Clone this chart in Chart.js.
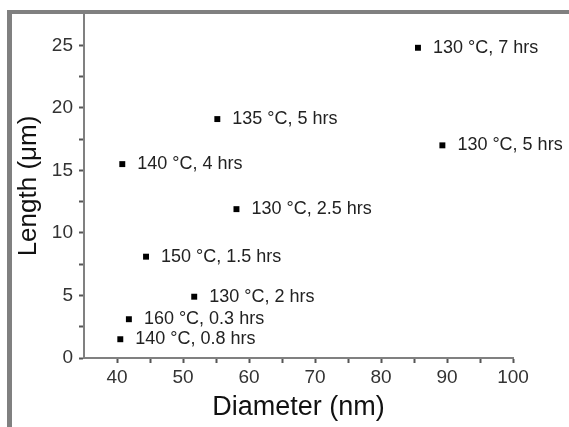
<!DOCTYPE html>
<html>
<head>
<meta charset="utf-8">
<script src="https://cdn.jsdelivr.net/npm/chart.js@4/dist/chart.umd.min.js"></script>
<style>
  html, body { margin: 0; padding: 0; background: #fff; }
  #wrap { position: relative; width: 569px; height: 427px; overflow: hidden; }
  #frame { position: absolute; left: 7px; top: 10px; width: 600px; height: 500px;
           border-left: 5px solid #808080; border-top: 4px solid #808080; }
  canvas { position: absolute; left: 0; top: 0; }
</style>
</head>
<body>
<div id="wrap">
  <div id="frame"></div>
  <canvas id="c" width="569" height="427"></canvas>
</div>
<script>
// Data
const diameters = [85.6, 55.2, 89.3, 40.8, 58.1, 44.4, 51.7, 41.8, 40.5];   // nm
const lengths   = [24.8, 19.1, 17.0, 15.5, 11.9, 8.1, 4.9, 3.1, 1.5];     // µm
const pointLabels = [
  "130 °C, 7 hrs", "135 °C, 5 hrs", "130 °C, 5 hrs", "140 °C, 4 hrs",
  "130 °C, 2.5 hrs", "150 °C, 1.5 hrs", "130 °C, 2 hrs", "160 °C, 0.3 hrs",
  "140 °C, 0.8 hrs"
];
const xTickLabels = [40, 50, 60, 70, 80, 90, 100];
const yTickLabels = [0, 5, 10, 15, 20, 25];

const FONT = "'Liberation Sans', Arial, sans-serif";

const labelPlugin = {
  id: 'pointLabels',
  afterDatasetsDraw(chart) {
    const ctx = chart.ctx;
    const meta = chart.getDatasetMeta(0);
    ctx.save();
    ctx.font = "18px " + FONT;
    ctx.fillStyle = "#222";
    ctx.textBaseline = "middle";
    ctx.textAlign = "left";
    meta.data.forEach((el, i) => {
      ctx.fillText(pointLabels[i], el.x + 15, el.y);
    });
    ctx.restore();
  }
};

new Chart(document.getElementById('c'), {
  type: 'scatter',
  data: {
    datasets: [{
      data: diameters.map((d, i) => ({ x: d, y: lengths[i] })),
      pointStyle: 'rect',
      pointRadius: 4.2,
      pointHoverRadius: 4.2,
      backgroundColor: '#000',
      borderColor: '#000',
      borderWidth: 0
    }]
  },
  options: {
    responsive: false,
    animation: false,
    events: [],
    layout: { padding: { left: 12, top: 14, right: 56, bottom: 0 } },
    plugins: { legend: { display: false }, tooltip: { enabled: false } },
    scales: {
      x: {
        type: 'linear',
        min: 35, max: 100,
        afterFit(s) { s.height = 69; s.paddingLeft = 0; s.paddingRight = 0; },
        afterBuildTicks(s) {
          const t = [];
          for (let v = 40; v <= 100; v += 5) t.push({ value: v });
          s.ticks = t;
        },
        border: { display: true, color: '#808080', width: 2 },
        grid: { display: true, drawOnChartArea: false, drawTicks: true, tickLength: 5,
                tickColor: '#555', tickWidth: 2 },
        ticks: {
          padding: 3,
          maxRotation: 0,
          autoSkip: false,
          color: '#333',
          font: { family: FONT, size: 19 },
          callback: (v) => xTickLabels.includes(v) ? String(v) : ''
        },
        title: {
          display: true, text: 'Diameter (nm)', color: '#111',
          font: { family: FONT, size: 27 }, padding: { top: 0, bottom: 3 }
        }
      },
      y: {
        type: 'linear',
        min: 0, max: 27.5,
        afterFit(s) { s.width = 72; s.paddingTop = 0; s.paddingBottom = 0; },
        afterBuildTicks(s) {
          const t = [];
          for (let v = 0; v <= 25; v += 2.5) t.push({ value: v });
          s.ticks = t;
        },
        border: { display: true, color: '#808080', width: 2 },
        grid: { display: true, drawOnChartArea: false, drawTicks: true, tickLength: 5,
                tickColor: '#555', tickWidth: 2 },
        ticks: {
          padding: 6,
          autoSkip: false,
          color: '#333',
          font: { family: FONT, size: 19 },
          callback: (v) => yTickLabels.includes(v) ? String(v) : ''
        },
        title: {
          display: true, text: 'Length (μm)', color: '#111',
          font: { family: FONT, size: 26 }, padding: { top: 1, bottom: 0 }
        }
      }
    }
  },
  plugins: [labelPlugin]
});
</script>
</body>
</html>
